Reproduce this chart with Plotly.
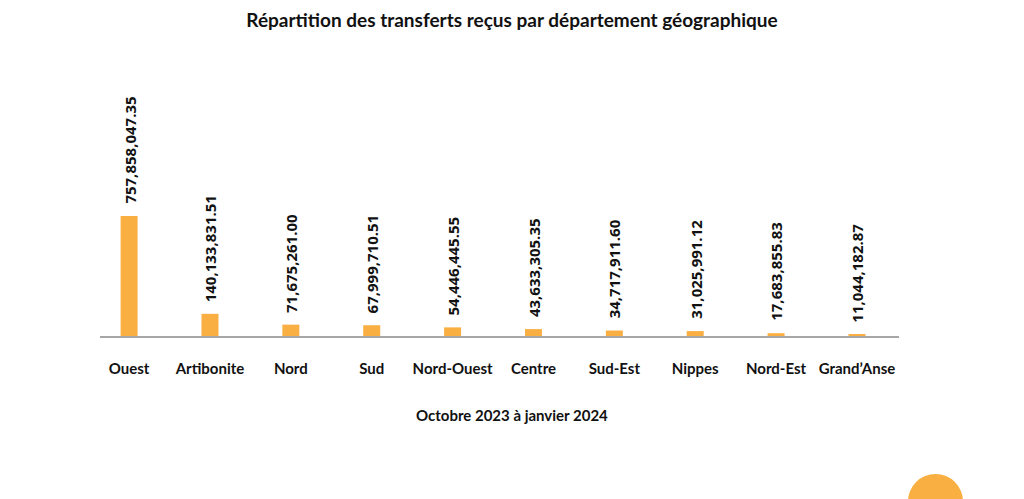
import plotly.graph_objects as go

departments = ["Ouest", "Artibonite", "Nord", "Sud", "Nord-Ouest", "Centre",
               "Sud-Est", "Nippes", "Nord-Est", "Grand\u2019Anse"]
amounts = [757858047.35, 140133831.51, 71675261.00, 67999710.51, 54446445.55,
           43633305.35, 34717911.60, 31025991.12, 17683855.83, 11044182.87]
value_labels = ["757,858,047.35", "140,133,831.51", "71,675,261.00", "67,999,710.51",
                "54,446,445.55", "43,633,305.35", "34,717,911.60", "31,025,991.12",
                "17,683,855.83", "11,044,182.87"]

title_text = "Répartition des transferts reçus par département géographique"
period_text = "Octobre 2023 à janvier 2024"

BAR = "#F9AF42"
xpos = list(range(len(departments)))

# page has an 8px body margin: figure origin sits at (8, 8)
OFF = 8
W, H = 1024 - OFF, 499 - OFF
L, T = 100 - OFF, 60 - OFF
PW, PH = 799, 276

fig = go.Figure()
fig.add_trace(go.Bar(
    x=xpos, y=amounts, width=0.21,
    marker=dict(color=BAR, line=dict(width=0)),
    hoverinfo="skip",
))

for i, (v, lab) in enumerate(zip(amounts, value_labels)):
    fig.add_annotation(
        x=i, y=v, xref="x", yref="y", text=lab, textangle=-90,
        showarrow=False, yanchor="bottom", xanchor="center", yshift=10,
        font=dict(family="Open Sans", size=15, color="#111111", weight="bold"),
    )

fig.add_annotation(
    x=(512 - 100) / PW, y=-(415 - 336) / PH, xref="paper", yref="paper",
    text=period_text, showarrow=False, xanchor="center", yanchor="middle",
    font=dict(family="Lato", size=15, color="#111111", weight="bold"),
)

fig.add_shape(
    type="circle", xref="paper", yref="paper",
    xsizemode="pixel", ysizemode="pixel",
    xanchor=(935.5 - 100) / PW, yanchor=(336 - 501.5) / PH,
    x0=-27.5, x1=27.5, y0=-27.5, y1=27.5,
    fillcolor=BAR, line=dict(width=0), layer="above",
)

fig.update_layout(
    width=W, height=H,
    margin=dict(l=L, r=W - L - PW, t=T, b=H - T - PH, pad=0),
    paper_bgcolor="white", plot_bgcolor="white",
    showlegend=False,
    title=dict(text=title_text, x=(512 - OFF) / W, xref="container", xanchor="center",
               y=1 - (20 - OFF) / H, yref="container", yanchor="middle",
               font=dict(family="Lato", size=19, color="#111111", weight="bold")),
    xaxis=dict(
        range=[-0.36, 9.52], tickmode="array", tickvals=xpos, ticktext=departments,
        showline=True, linecolor="#A6A6A6", linewidth=1.5,
        showgrid=False, zeroline=False, ticks="", ticklabelstandoff=18,
        tickfont=dict(family="Lato", size=15, color="#111111", weight="bold"),
    ),
    yaxis=dict(range=[0, 757858047.35 * PH / 120], visible=False,
               showgrid=False, zeroline=False),
)

fig.write_html("out.html")
